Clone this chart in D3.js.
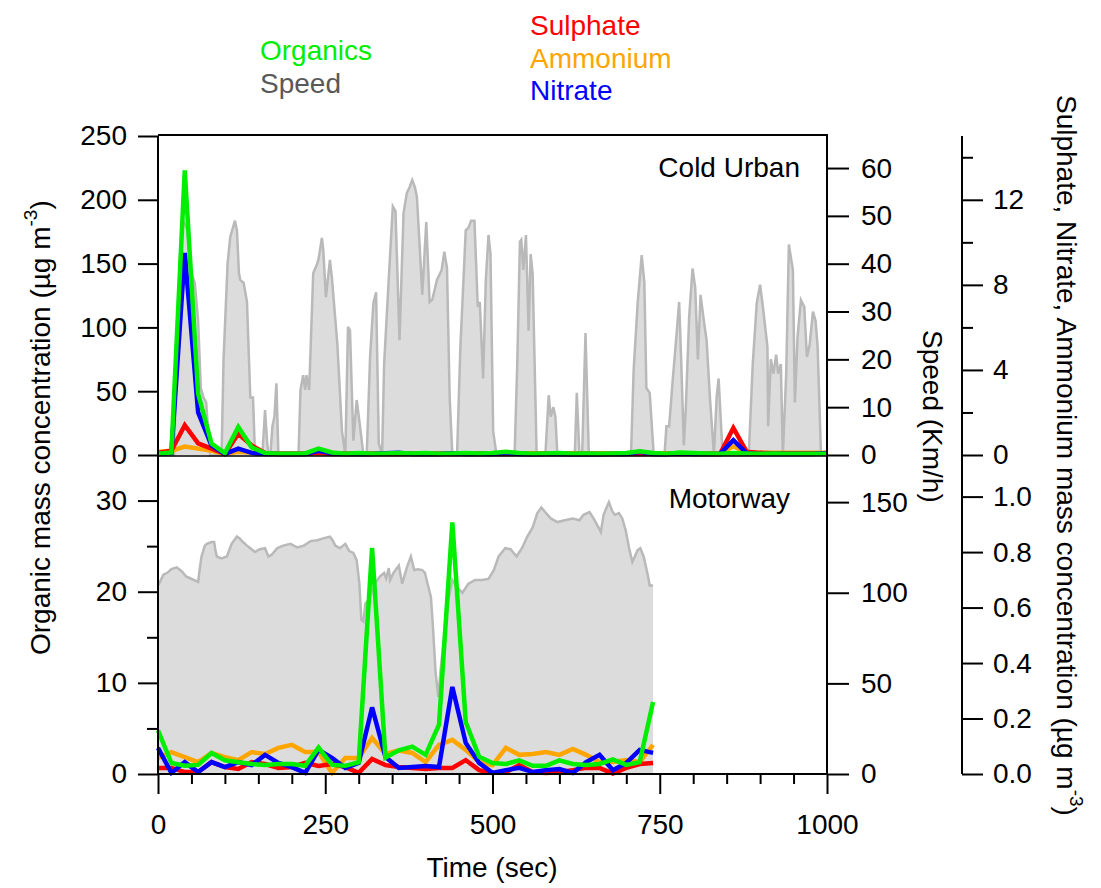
<!DOCTYPE html>
<html><head><meta charset="utf-8">
<script src="https://cdn.jsdelivr.net/npm/d3@7"></script>
<style>body{margin:0;background:#fff}</style>
</head><body><svg id="c" width="1101" height="888"></svg>
<script>
// ---------------- DATA ----------------
const timesTop = [0,20,40,60,80,100,120,140,160,180,200,220,240,260,280,300,320,340,360,380,400,420,440,460,480,500,520,540,560,580,600,620,640,660,680,700,720,740,760,780,800,820,840,860,880,900,920,940,960,980,1000];
const organicsTop = [1,2,223,48,9,1.5,22,6,1.5,1,1,1.2,5,2,1,1.5,1,1.2,1.5,1.2,1.5,1,1.2,1.5,1.2,1.5,2.5,1.5,1,1.2,1.5,1,1.2,1,1.2,1.5,3,1.5,1,2,1.5,1.2,1,1.5,1.2,1,1.2,1,1,1,1];
const nitrateTop = [0.05,0.1,9.5,2.0,0.45,0.05,0.3,0.1,0.05,0.05,0.05,0.05,0.2,0.08,0.05,0.05,0.05,0.08,0.1,0.05,0.05,0.05,0.08,0.05,0.05,0.05,0.1,0.05,0.03,0.05,0.05,0.03,0.05,0.03,0.05,0.05,0.15,0.05,0.03,0.08,0.05,0.05,0.05,0.7,0.08,0.05,0.05,0.05,0.05,0.05,0.1];
const sulphateTop = [0.1,0.2,1.4,0.55,0.3,0.05,1.0,0.45,0.1,0.05,0.05,0.05,0.1,0.05,0.05,0.05,0.05,0.05,0.05,0.05,0.05,0.05,0.05,0.05,0.05,0.05,0.05,0.05,0.05,0.05,0.05,0.05,0.05,0.05,0.05,0.05,0.05,0.05,0.05,0.05,0.05,0.05,0.05,1.27,0.15,0.1,0.08,0.08,0.08,0.08,0.08];
const ammoniumTop = [0.15,0.2,0.4,0.3,0.2,0.05,0.15,0.1,0.08,0.08,0.08,0.08,0.08,0.08,0.08,0.08,0.08,0.08,0.08,0.08,0.08,0.08,0.08,0.08,0.08,0.08,0.08,0.08,0.08,0.08,0.08,0.08,0.08,0.08,0.08,0.08,0.08,0.08,0.08,0.08,0.08,0.08,0.08,0.4,0.12,0.1,0.1,0.1,0.1,0.1,0.1];

const timesBot = [0,20,40,60,80,100,120,140,160,180,200,220,240,260,280,300,320,340,360,380,400,420,440,460,480,500,520,540,560,580,600,620,640,660,680,700,720,740];
const organicsBot = [4.8,1.2,0.9,1.0,2.3,1.5,1.3,1.1,1.0,1.1,1.1,0.9,2.9,1.0,0.9,1.3,24.8,1.8,2.6,3.0,2.1,5.4,27.6,5.7,1.9,1.2,1.1,1.5,0.9,0.9,1.5,1.1,1.0,1.1,1.6,1.0,1.3,7.9];
const nitrateBot = [0.094,0.004,0.043,0.007,0.043,0.025,0.043,0.032,0.069,0.04,0.025,0.004,0.087,0.058,0.022,0.04,0.24,0.061,0.022,0.025,0.029,0.025,0.314,0.112,0.04,0.004,0.014,0.022,0.007,0.014,0.018,0.004,0.043,0.069,0.014,0.04,0.087,0.076];
const sulphateBot = [0.022,0.022,0.007,0.007,0.043,0.025,0.018,0.043,0.036,0.022,0.025,0.04,0.029,0.036,0.025,0.004,0.054,0.032,0.025,0.022,0.018,0.022,0.022,0.05,0.014,0.004,0.007,0.032,0.007,0.004,0.007,0.014,0.022,0.022,0.002,0.022,0.036,0.04];
const ammoniumBot = [0.058,0.079,0.061,0.043,0.076,0.061,0.05,0.079,0.072,0.094,0.105,0.079,0.079,0.004,0.058,0.058,0.13,0.072,0.085,0.076,0.043,0.105,0.123,0.087,0.043,0.032,0.094,0.069,0.072,0.079,0.069,0.09,0.069,0.043,0.043,0.05,0.043,0.105];

// speed profiles [time s, km/h]
const speedTop = [[0,0],[24,0],[28,20],[33,42],[38,49],[44,47],[50,38],[55,36],[60,28],[64,14],[68,12],[72,11],[76,3],[78,0],
[95,0],[98,20],[104,40],[108,45.6],[113,48],[115,49],[118,47],[121,38],[123,36.6],[128,36],[133,32],[136,20],[138,12],[142,12],[145,0],
[156,0],[160,9.4],[163,3],[165,0],[168,0],[171,6],[174,8],[177,15],[180,0],
[210,0],[213,13.6],[217,16.7],[220,13.6],[222,16.7],[226,13.6],[232,38],[238,40],[240,41],[245,45.4],[247,43],[251,33],[257,40.8],[260,37],[268,23.4],[275,5],[280,0],[284,26.8],[287,26],[292,3],[297,11.5],[302,6],[307,0],[312,0],[317,20.5],[322,31.8],[326,34],[330,2.5],[335,0],
[338,19],[345,37],[351,52],[355,51],[361,24],[367,50.6],[372,54.8],[376,56],[380,57.5],[384,56],[387,54],[391,44],[395,33.5],[401,48.7],[406,32],[410,32.5],[417,36.6],[424,38.7],[428,42.5],[432,39],[436,12],[440,0],
[447,0],[452,22.6],[460,47],[464,47.5],[468,49],[473,49],[478,31],[481,32],[486,16],[490,36.6],[494,46],[497,42],[501,5],[506,0],
[533,0],[537,19],[541,44.6],[543,45],[546,38.7],[550,46],[554,26],[557,42],[560,38],[566,0],
[579,0],[584,12.5],[587,8],[591,10],[594,8],[597,0],
[623,0],[626,13],[630,0],[634,0],[639,25.5],[644,0],
[707,0],[711,17.8],[717,31.8],[723,41.8],[727,36],[730,14],[735,13],[741,0],
[757,0],[760,6],[764,6],[769,15],[774,23.4],[779,32],[782,20],[786,2],[789,10],[794,29],[799,39],[803,35],[807,20],[811,33.5],[816,28],[820,24],[825,12],[831,0],[835,12],[838,16],[844,0],
[883,0],[889,19],[895,31.8],[900,35.6],[905,30],[911,22.6],[912,6],[916,20],[920,17],[924,21],[927,17],[931,19],[934,0],[939,17],[943,44],[949,38.7],[952,11],[956,24.7],[961,32.4],[966,31],[970,20.5],[974,23],[979,30],[983,28],[986,22.6],[991,0],[1000,0]];

const speedBot = [[0,104],[3,106],[8,110],[14,111],[20,113],[28,114],[35,112],[42,109],[48,108],[60,106],[62,112],[65,120],[70,126],[73,127],[80,128],[84,128],[86,123],[88,120],[95,119],[103,120],[110,127],[118,131],[122,130],[127,128],[133,126],[138,124.6],[145,122.5],[152,124],[160,124.6],[165,120],[170,121],[178,124.6],[187,126],[198,127],[203,126],[208,125],[218,126],[228,128.5],[238,129],[247,130],[257,131],[261,129],[265,126],[272,124.6],[280,127],[286,123],[292,122],[297,118],[301,105],[304,85],[307,84],[310,94],[315,96],[320,101],[326,106],[332,109],[338,111],[341,108],[345,113.6],[347,107],[352,111],[360,115],[365,105],[372,114],[378,120],[383,112.5],[389,113],[395,112.5],[399,111],[403,105],[408,97.6],[411,81],[415,55.7],[419,42.5],[422,55.7],[427,74],[434,96],[440,107],[447,103],[455,100],[464,105],[474,107],[484,107],[494,107.6],[502,112.5],[509,120],[519,124.6],[527,124],[536,120],[544,124.6],[552,131],[560,136],[567,144],[573,147],[580,144],[587,141],[597,139],[608,140],[620,141],[630,140],[636,143],[645,144.5],[651,141],[657,137],[662,133.5],[666,143],[674,150],[679,145],[683,143],[689,144],[694,141],[699,134.6],[704,125],[709,117],[717,123.5],[721,124.6],[726,120],[732,110],[735,104],[740,104]];

// tick labels
const xTicks = [0,250,500,750,1000];
const xMinor = [50,100,150,200,300,350,400,450,550,600,650,700,800,850,900,950];
const orgTopTicks = [0,50,100,150,200,250];
const orgBotTicks = [0,10,20,30];
const orgBotMinor = [5,15,25];
const spdTopTicks = [0,10,20,30,40,50,60];
const spdBotTicks = [0,50,100,150];
const inoTopTicks = [0,4,8,12];
const inoTopMinor = [2,6,10,14];
const inoBotTicks = [0,0.2,0.4,0.6,0.8,1.0];

// ---------------- DRAW ----------------
const FONT = '"Liberation Sans", Arial, Helvetica, sans-serif';
const svg = d3.select("#c");
const L = 158, R = 827, T = 136, M = 455, B = 774, R2 = 962;

const x = d3.scaleLinear().domain([0,1000]).range([L,R]);
const yOrgTop = d3.scaleLinear().domain([0,250]).range([M,T]);
const ySpdTop = d3.scaleLinear().domain([0,66.7]).range([M,T]);
const yInoTop = d3.scaleLinear().domain([0,15]).range([M,T]);
const yOrgBot = d3.scaleLinear().domain([0,35]).range([B,M]);
const ySpdBot = d3.scaleLinear().domain([0,176]).range([B,M]);
const yInoBot = d3.scaleLinear().domain([0,1.15]).range([B,M]);

const COL = {org:"#00ee00", sul:"#ff0000", amm:"#ffa500", nit:"#0000ff", spdFill:"#dcdcdc", spdLine:"#b9b9b9"};

function speedArea(data, ys){
  svg.append("path").datum(data)
    .attr("d", d3.area().x(d=>x(d[0])).y0(ys(0)).y1(d=>ys(d[1])))
    .attr("fill", COL.spdFill);
  svg.append("path").datum(data)
    .attr("d", d3.line().x(d=>x(d[0])).y(d=>ys(d[1])))
    .attr("fill","none").attr("stroke",COL.spdLine).attr("stroke-width",2.5);
}
speedArea(speedTop, ySpdTop);
speedArea(speedBot, ySpdBot);

function series(times, vals, ys, col){
  svg.append("path").datum(vals)
    .attr("d", d3.line().x((d,i)=>x(times[i])).y(d=>ys(d)))
    .attr("fill","none").attr("stroke",col).attr("stroke-width",4.5);
}
series(timesTop, ammoniumTop, yInoTop, COL.amm);
series(timesTop, sulphateTop, yInoTop, COL.sul);
series(timesTop, nitrateTop, yInoTop, COL.nit);
series(timesTop, organicsTop, yOrgTop, COL.org);
series(timesBot, ammoniumBot, yInoBot, COL.amm);
series(timesBot, sulphateBot, yInoBot, COL.sul);
series(timesBot, nitrateBot, yInoBot, COL.nit);
series(timesBot, organicsBot, yOrgBot, COL.org);

// frame lines
function ln(x1,y1,x2,y2,w){ svg.append("line").attr("x1",x1).attr("y1",y1).attr("x2",x2).attr("y2",y2).attr("stroke","#000").attr("stroke-width",w||2); }
ln(L,T-1,R+1,T-1);
ln(L,T,L,B+1);
ln(R,T,R,B+1);
ln(L,B,R,B);
ln(L,M+1,R,M+1,1.5);
ln(R2,T,R2,B);

function axis(gen, tx, ty, vals, size, pad, fmt){
  const g = svg.append("g").attr("transform",`translate(${tx},${ty})`)
    .call(gen.tickValues(vals).tickSize(size).tickSizeOuter(0).tickPadding(pad).tickFormat(fmt));
  g.select(".domain").remove();
  g.selectAll("line").attr("stroke","#000").attr("stroke-width",2);
  g.selectAll("text").attr("font-family",FONT).attr("font-size",28).attr("fill","#000");
  return g;
}
const none = () => "";
// x axis
axis(d3.axisBottom(x), 0, B, xTicks, 20, 20, d3.format("d"));
axis(d3.axisBottom(x), 0, B, xMinor, 10, 0, none);
// left axes
axis(d3.axisLeft(yOrgTop), L, 0, orgTopTicks, 20, 11, d3.format("d"));
axis(d3.axisLeft(yOrgBot), L, 0, orgBotTicks, 20, 11, d3.format("d"));
axis(d3.axisLeft(yOrgBot), L, 0, orgBotMinor, 11, 0, none);
// speed axes
axis(d3.axisRight(ySpdTop), R, 0, spdTopTicks, 22, 12, d3.format("d"));
axis(d3.axisRight(ySpdBot), R, 0, spdBotTicks, 22, 12, d3.format("d"));
// inorganic axes
axis(d3.axisRight(yInoTop), R2, 0, inoTopTicks, 21, 10, d3.format("d"));
axis(d3.axisRight(yInoTop), R2, 0, inoTopMinor, 11, 0, none);
axis(d3.axisRight(yInoBot), R2, 0, inoBotTicks, 21, 10, d3.format(".1f"));

// text helper
function txt(s, xx, yy, col, anchor){
  return svg.append("text").attr("x",xx).attr("y",yy).attr("fill",col||"#000")
    .attr("font-family",FONT).attr("font-size",28).attr("text-anchor",anchor||"start").text(s);
}
// panel labels
txt("Cold Urban", 800, 177, "#000", "end");
txt("Motorway", 790, 508, "#000", "end");
// legend
txt("Organics", 260, 60, COL.org);
txt("Speed", 260, 93, "#595959");
txt("Sulphate", 530, 35, COL.sul);
txt("Ammonium", 530, 68, COL.amm);
txt("Nitrate", 530, 100, COL.nit);
// x title
txt("Time (sec)", 492, 877, "#000", "middle");
// left title
{
  const t = svg.append("text").attr("transform","translate(50,655) rotate(-90)")
    .attr("font-family",FONT).attr("font-size",28).attr("fill","#000");
  t.append("tspan").text("Organic mass concentration (µg m");
  t.append("tspan").attr("dy",-13).attr("font-size",19).text("-3");
  t.append("tspan").attr("dy",13).text(")");
}
// speed title
{
  svg.append("text").attr("transform","translate(923,330) rotate(90)")
    .attr("font-family",FONT).attr("font-size",28).attr("fill","#000").text("Speed (Km/h)");
}
// inorganic title
{
  const t = svg.append("text").attr("transform","translate(1057,95) rotate(90)")
    .attr("font-family",FONT).attr("font-size",28).attr("fill","#000");
  t.append("tspan").text("Sulphate, Nitrate, Ammonium mass concentration (µg m");
  t.append("tspan").attr("dy",-13).attr("font-size",19).text("-3");
  t.append("tspan").attr("dy",13).text(")");
}
</script>
</body></html>
